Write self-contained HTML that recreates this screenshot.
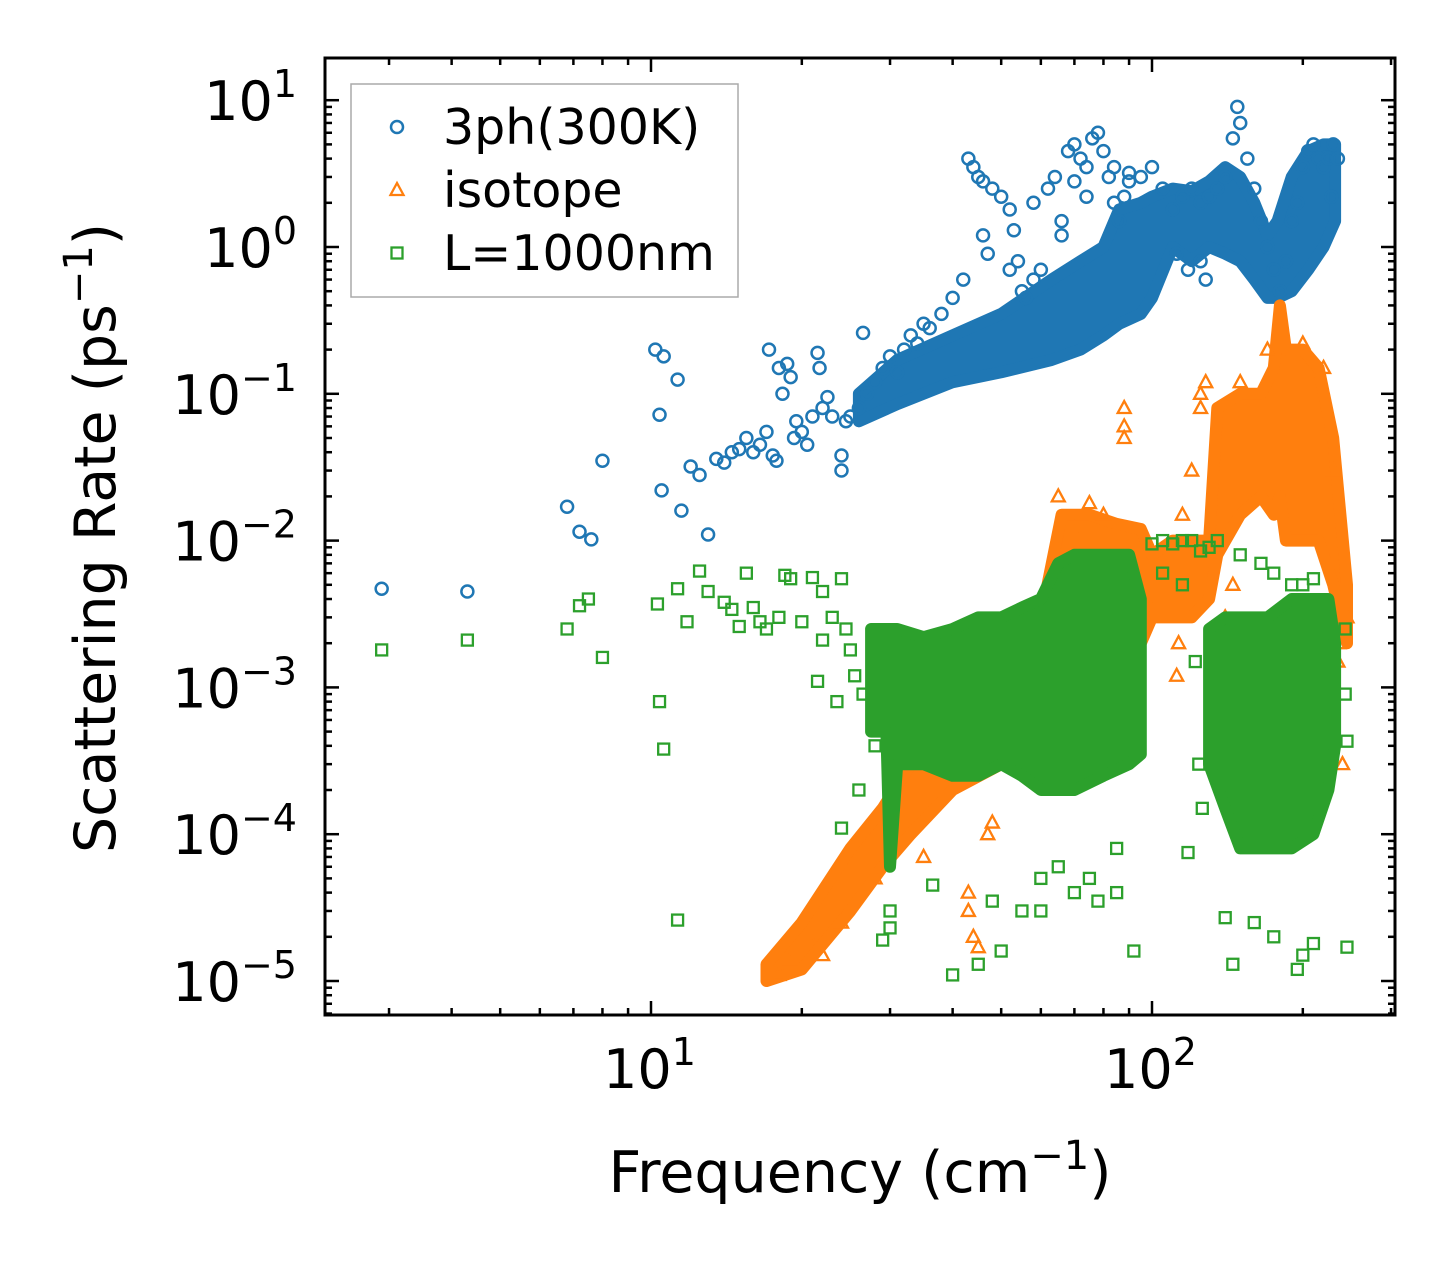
<!DOCTYPE html>
<html><head><meta charset="utf-8"><style>
html,body{margin:0;padding:0;background:#fff;}
svg{display:block;font-family:"DejaVu Sans","Liberation Sans",sans-serif;}
</style></head><body>
<svg id="chart" width="1455" height="1265" viewBox="0 0 1455 1265" xmlns="http://www.w3.org/2000/svg">
<rect width="1455" height="1265" fill="#fff"/>
<g id="series"></g>
<g id="axes"></g>
</svg>
<script>
// ---- data (frequency cm^-1, rate ps^-1) ----
const blueFreq=[2.9,4.3,6.8,7.2,7.6,8,10.2,10.4,10.6,10.5,11.3,11.5,12,12.5,13,13.5,14,14.5,15,15.5,16,16.5,17,17.2,17.5,17.8,18,18.3,18.7,19,19.3,19.5,20,20.5,21,21.5,21.7,22,22.5,23,24,24,24.5,25,26,26.5,27,28,29,30,31,32,33,34,35,36,38,40,42,43,44,45,46,48,50,52,53,54,55,56,58,60,62,64,66,68,70,72,74,76,78,80,82,84,86,88,90,95,100,105,110,115,120,125,130,135,140,145,148,150,155,160,165,170,175,180,185,190,195,200,205,210,215,220,225,230,112,118,125,128,46,47,52,58,66,70,74,84,90,235,228];
const blueRate=[0.0047,0.0045,0.017,0.0115,0.0102,0.035,0.2,0.072,0.18,0.022,0.125,0.016,0.032,0.028,0.011,0.036,0.034,0.04,0.042,0.05,0.04,0.045,0.055,0.2,0.038,0.035,0.15,0.1,0.16,0.13,0.05,0.065,0.055,0.045,0.07,0.19,0.15,0.08,0.095,0.07,0.03,0.038,0.065,0.07,0.08,0.26,0.1,0.12,0.15,0.18,0.14,0.2,0.25,0.22,0.3,0.28,0.35,0.45,0.6,4.0,3.5,3.0,2.8,2.5,2.2,1.8,1.3,0.8,0.5,0.45,0.6,0.7,2.5,3.0,1.5,4.5,5.0,4.0,3.5,5.5,6.0,4.5,3.0,2.0,1.5,2.2,2.8,3.0,3.5,2.5,1.8,2.2,2.5,2.0,2.2,2.5,3.0,5.5,9.0,7.0,4.0,2.5,1.5,1.0,0.7,0.5,0.8,1.5,2.0,3.5,4.5,5.0,4.0,3.5,4.0,5.0,0.9,0.7,0.8,0.6,1.2,0.9,0.7,2.0,1.2,2.8,2.2,3.5,3.2,4.0,2.2];
const blueCoreFreq=[26,31,40,50,63,72,80,86,95,100,110,120,130,140,150,160,170,178,190,205,220,232];
const blueCoreLow=[0.065,0.085,0.12,0.14,0.17,0.2,0.25,0.3,0.35,0.45,1.0,0.8,1.0,0.9,0.8,0.6,0.45,0.45,0.5,0.7,1.0,1.5];
const blueCoreHigh=[0.1,0.17,0.25,0.35,0.6,0.8,1.0,1.8,2.0,2.2,2.5,2.4,2.8,3.5,3.0,2.0,1.2,1.5,3.0,4.5,5.0,5.0];

const orangeFreq=[88,88,88,120,125,125,128,115,112,113,95,97,140,145,240,235,236,43,43,44,45,35,47,48,52,65,75,80,28,22,24,18,19,21,40,42,60,70,90,150,170,200,220,230,245];
const orangeRate=[0.08,0.06,0.05,0.03,0.08,0.1,0.12,0.015,0.0012,0.002,0.003,0.004,0.003,0.005,0.0003,0.0015,0.002,3e-5,4e-5,2e-5,1.7e-5,7e-5,1e-4,1.2e-4,0.002,0.02,0.018,0.015,5e-5,1.5e-5,2.5e-5,1.1e-5,1.4e-5,1.8e-5,2.5e-4,3e-4,0.004,0.012,0.009,0.12,0.2,0.22,0.15,0.03,0.003];
const orangeCoreFreq=[17,20,25,29,33,40,50,60,66,75,85,95,100,110,120,130,135,150,165,175,180,185,200,215,230,245];
const orangeCoreLow=[1e-5,1.2e-5,3e-5,6e-5,1e-4,2e-4,3e-4,5e-4,1e-3,1.5e-3,2e-3,2e-3,3e-3,3e-3,3e-3,4e-3,8e-3,0.015,0.02,0.015,0.02,0.01,0.01,0.01,0.005,0.002];
const orangeCoreHigh=[1.3e-5,2.5e-5,8e-5,1.5e-4,3e-4,6e-4,1e-3,3e-3,0.015,0.015,0.013,0.012,0.008,0.01,0.01,0.01,0.08,0.1,0.1,0.15,0.4,0.2,0.2,0.15,0.05,0.005];

const greenFreq=[2.9,4.3,6.8,7.2,7.5,8,10.3,10.4,10.6,11.3,11.3,11.8,12.5,13,14,14.5,15,15.5,16,16.5,17,18,18.5,19,20,21,22,23,24,24.5,21.5,22,23.5,24,26,28,29,30,30,36.5,40,45,50,48,55,60,70,78,92,118,140,145,195,200,175,160,210,245,245,243,243,60,65,75,85,85,100,105,110,115,120,125,130,135,150,165,175,190,105,115,200,210,122,124,126,25,25.5,26.5];
const greenRate=[0.0018,0.0021,0.0025,0.0036,0.004,0.0016,0.0037,0.0008,0.00038,0.0047,2.6e-5,0.0028,0.0062,0.0045,0.0038,0.0034,0.0026,0.006,0.0035,0.0028,0.0025,0.003,0.0058,0.0055,0.0028,0.0056,0.0045,0.003,0.0055,0.0025,0.0011,0.0021,0.0008,1.1e-4,2e-4,4e-4,1.9e-5,3e-5,2.3e-5,4.5e-5,1.1e-5,1.3e-5,1.6e-5,3.5e-5,3e-5,3e-5,4e-5,3.5e-5,1.6e-5,7.5e-5,2.7e-5,1.3e-5,1.2e-5,1.5e-5,2e-5,2.5e-5,1.8e-5,1.7e-5,4.3e-4,9e-4,0.0025,5e-5,6e-5,5e-5,8e-5,4e-5,0.0095,0.01,0.0095,0.01,0.01,0.0085,0.009,0.01,0.008,0.007,0.006,0.005,0.006,0.005,0.005,0.0055,0.0015,3e-4,1.5e-4,0.0018,0.0012,0.0009];
const greenCoreFreq=[27.5,29.5,30,31,35,40,45,50,55,60,65,70,80,90,95];
const greenCoreLow=[5e-4,5e-4,6e-5,3e-4,3e-4,2.5e-4,2.5e-4,3e-4,2.5e-4,2e-4,2e-4,2e-4,2.5e-4,3e-4,3.5e-4];
const greenCoreHigh=[2.5e-3,2.5e-3,2.5e-3,2.5e-3,2.2e-3,2.5e-3,3e-3,3e-3,3.5e-3,4e-3,7e-3,8e-3,8e-3,8e-3,4e-3];
const greenCore2Freq=[130,140,150,170,190,210,225,232];
const greenCore2Low=[3e-4,1.5e-4,8e-5,8e-5,8e-5,1e-4,2e-4,4e-4];
const greenCore2High=[2.5e-3,3e-3,3e-3,3e-3,4e-3,4e-3,4e-3,2e-3];

const yMajor=[1,0,-1,-2,-3,-4,-5];
const xMajor=[1,2];

// ---- axes functions ----
const L=325,R=1395,T=58,B=1015;
function X(f){return 651+501*(Math.log10(f)-1);}
function Y(r){return 247-146.8*Math.log10(r);}
const NS="http://www.w3.org/2000/svg";
function mk(tag,attrs,parent){const e=document.createElementNS(NS,tag);for(const k in attrs)e.setAttribute(k,attrs[k]);parent.appendChild(e);return e;}
const gS=document.getElementById('series');
const gA=document.getElementById('axes');
const colors={blue:'#1f77b4',orange:'#ff7f0e',green:'#2ca02c'};

function core(freq,lo,hi,color,name){
  let pts=[];
  for(let i=0;i<freq.length;i++)pts.push(X(freq[i]).toFixed(1)+','+Y(hi[i]).toFixed(1));
  for(let i=freq.length-1;i>=0;i--)pts.push(X(freq[i]).toFixed(1)+','+Y(lo[i]).toFixed(1));
  const p=mk('polygon',{points:pts.join(' '),fill:color,stroke:color,'stroke-width':12,'stroke-linejoin':'round'},gS);
  
  
}
function marker(kind,x,y,color,parent){
  let e;
  if(kind==='circle')e=mk('circle',{cx:x,cy:y,r:6,fill:'none',stroke:color,'stroke-width':2.5},parent);
  else if(kind==='tri')e=mk('polygon',{points:`${x},${y-7} ${x-6.5},${y+5} ${x+6.5},${y+5}`,fill:'none',stroke:color,'stroke-width':2.3},parent);
  else e=mk('rect',{x:x-5.5,y:y-5.5,width:11,height:11,fill:'none',stroke:color,'stroke-width':2.3},parent);
  return e;
}
function scatter(fs,rs,kind,color,name){
  for(let i=0;i<fs.length;i++){
    const e=marker(kind,X(fs[i]),Y(rs[i]),color,gS);
    
    
  }
}
core(blueCoreFreq,blueCoreLow,blueCoreHigh,colors.blue,'3ph-dense-cloud');
scatter(blueFreq,blueRate,'circle',colors.blue,'3ph-point');
core(orangeCoreFreq,orangeCoreLow,orangeCoreHigh,colors.orange,'isotope-dense-cloud');
scatter(orangeFreq,orangeRate,'tri',colors.orange,'isotope-point');
core(greenCoreFreq,greenCoreLow,greenCoreHigh,colors.green,'boundary-dense-cloud');
core(greenCore2Freq,greenCore2Low,greenCore2High,colors.green,'boundary-dense-cloud-high');
scatter(greenFreq,greenRate,'square',colors.green,'boundary-point');

const fr=mk('rect',{x:L,y:T,width:R-L,height:B-T,fill:'none',stroke:'#000','stroke-width':3},gA);


function tick(x1,y1,x2,y2,name){const t=mk('line',{x1,y1,x2,y2,stroke:'#000','stroke-width':2.5},gA);}
for(let d=-6;d<=1;d++){
  for(let m=1;m<=9;m++){
    const v=m*Math.pow(10,d);const y=Y(v);
    if(y<T+1||y>B-1)continue;
    const len=m===1?14:7;
    tick(L,y,L+len,y,'y-tick');tick(R,y,R-len,y,'y-tick-right');
  }
}
for(const e of yMajor){
  const y=Y(Math.pow(10,e));
  const t=mk('text',{x:297,y:y+20,'font-size':54,'text-anchor':'end',fill:'#000'},gA);
  
  
  t.appendChild(document.createTextNode('10'));
  const s=mk('tspan',{dy:-23,'font-size':38},t);s.textContent=(e<0?'\u2212':'')+Math.abs(e);
}
for(let d=0;d<=2;d++){
  for(let m=1;m<=9;m++){
    const v=m*Math.pow(10,d);const x=X(v);
    if(x<L+1||x>R-1)continue;
    const len=m===1?14:7;
    tick(x,B,x,B-len,'x-tick');tick(x,T,x,T+len,'x-tick-top');
  }
}
for(const e of xMajor){
  const x=X(Math.pow(10,e));
  const t=mk('text',{x:x-48,y:1088,'font-size':54,fill:'#000'},gA);
  
  
  t.appendChild(document.createTextNode('10'));
  const s=mk('tspan',{dy:-23,'font-size':38},t);s.textContent=String(e);
}
const xt=mk('text',{x:860,y:1192,'font-size':57,'text-anchor':'middle',fill:'#000'},gA);


xt.appendChild(document.createTextNode('Frequency (cm'));
let s1=mk('tspan',{dy:-23,'font-size':40},xt);s1.textContent='\u22121';
let s2=mk('tspan',{dy:23},xt);s2.textContent=')';
const yt=mk('text',{x:0,y:0,'font-size':57,'text-anchor':'middle',fill:'#000',transform:'translate(115,538) rotate(-90)'},gA);


yt.appendChild(document.createTextNode('Scattering Rate (ps'));
let s3=mk('tspan',{dy:-23,'font-size':40},yt);s3.textContent='\u22121';
let s4=mk('tspan',{dy:23},yt);s4.textContent=')';
const lg=mk('g',{},gA);


mk('rect',{x:351,y:84,width:387,height:213,fill:'#fff','fill-opacity':0.8,stroke:'#aaa','stroke-width':1.5},lg);
const entries=[['3ph(300K)','circle',colors.blue,127],['isotope','tri',colors.orange,190],['L=1000nm','square',colors.green,253]];
for(const [label,kind,color,y] of entries){
  const g=mk('g',{},lg);
  
  
  marker(kind,397,y,color,g);
  const t=mk('text',{x:443,y:y+17,'font-size':49,fill:'#000'},g);t.textContent=label;
}
</script>
</body></html>
